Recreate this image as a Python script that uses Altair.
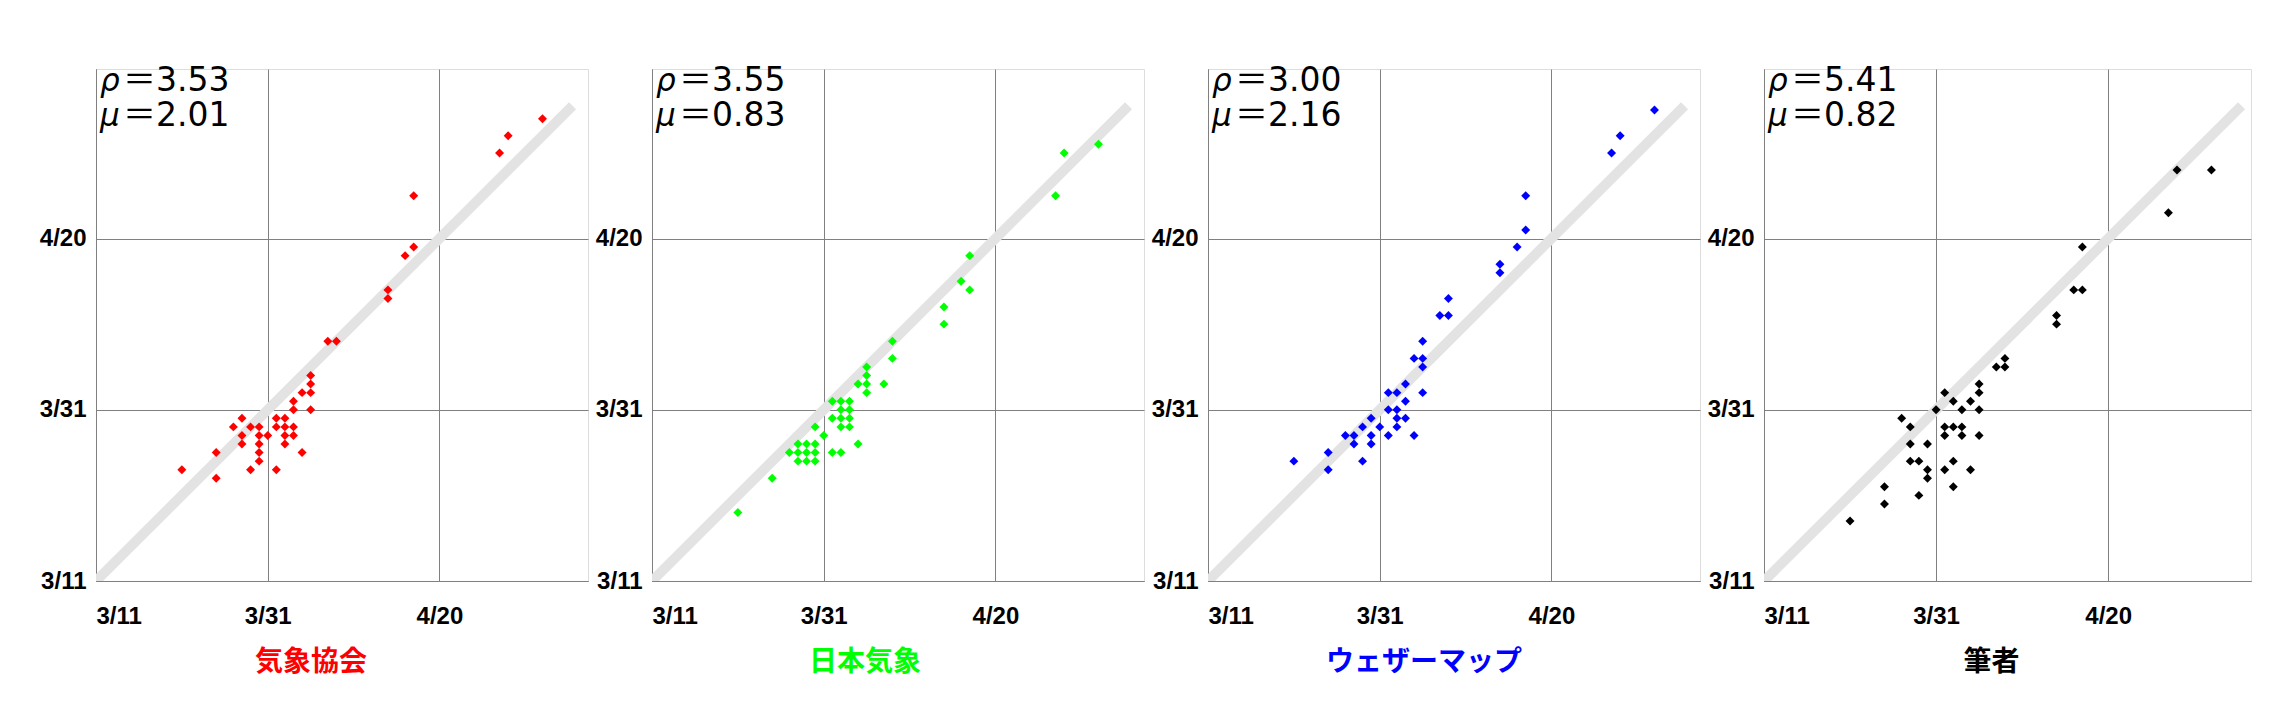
import altair as alt
import pandas as pd

# Days counted from 3/11 (0 = 3/11, 20 = 3/31, 40 = 4/20)
tick_days = [0, 20, 40]
tick_labels = ["3/11", "3/31", "4/20"]

panel_names = ["気象協会", "日本気象", "ウェザーマップ", "筆者"]
panel_colors = ["#ff0000", "#00ff00", "#0000ff", "#000000"]
rho_values = ["3.53", "3.55", "3.00", "5.41"]
mu_values = ["2.01", "0.83", "2.16", "0.82"]

kyokai_x = [10, 14, 14, 16, 17, 17, 17, 18, 18, 19, 19, 19, 19, 19, 20, 21, 21, 21, 22, 22, 22, 22,
            23, 23, 23, 23, 24, 24, 25, 25, 25, 25, 27, 28, 34, 34, 36, 37, 37, 47, 48, 52]
kyokai_y = [13, 15, 12, 18, 19, 17, 16, 18, 13, 18, 17, 16, 15, 14, 17, 19, 18, 13, 19, 18, 17, 16,
            21, 20, 18, 17, 22, 15, 24, 23, 22, 20, 28, 28, 34, 33, 38, 39, 45, 50, 52, 54]

nihon_x = [10, 14, 16, 17, 17, 17, 18, 18, 18, 19, 19, 19, 19, 20, 21, 21, 21, 22, 22, 22, 22, 22,
           23, 23, 23, 23, 24, 24, 25, 25, 25, 25, 27, 28, 28, 34, 34, 36, 37, 37, 47, 48, 52]
nihon_y = [8, 12, 15, 16, 15, 14, 16, 15, 14, 18, 16, 15, 14, 17, 21, 19, 15, 21, 20, 19, 18, 15,
           21, 20, 19, 18, 23, 16, 25, 24, 23, 22, 23, 28, 26, 32, 30, 35, 38, 34, 45, 50, 51]

wmap_x = [10, 14, 14, 16, 17, 17, 18, 18, 19, 19, 19, 20, 21, 21, 21, 22, 22, 22, 22, 23, 23, 23,
          24, 24, 25, 25, 25, 25, 27, 28, 28, 34, 34, 36, 37, 37, 47, 48, 52]
wmap_y = [14, 15, 13, 17, 17, 16, 18, 14, 19, 17, 16, 18, 22, 20, 17, 22, 20, 19, 18, 23, 21, 19,
          26, 17, 28, 26, 25, 22, 31, 33, 31, 37, 36, 39, 41, 45, 50, 52, 55]

hissha_x = [10, 14, 14, 16, 17, 17, 17, 18, 18, 19, 19, 19, 20, 21, 21, 21, 21, 22, 22, 22, 22,
            23, 23, 23, 24, 24, 25, 25, 25, 25, 27, 28, 28, 34, 34, 36, 37, 37, 47, 48, 52]
hissha_y = [7, 11, 9, 19, 18, 16, 14, 14, 10, 16, 13, 12, 20, 22, 18, 17, 13, 21, 18, 14, 11,
            20, 18, 17, 21, 13, 23, 22, 20, 17, 25, 26, 25, 31, 30, 34, 34, 39, 43, 48, 48]

diag_days = [0, 55.5]

series_x = [kyokai_x, nihon_x, wmap_x, hissha_x]
series_y = [kyokai_y, nihon_y, wmap_y, hissha_y]

x_max = [57.3, 57.3, 57.3, 56.6]
y_max = 59.8
panel_w = [492, 492, 492, 487]
panel_h = 512
title_dx = [-31, -33, -30, -16]

label_expr = "'" + tick_labels[-1] + "'"
for d, lab in reversed(list(zip(tick_days[:-1], tick_labels[:-1]))):
    label_expr = f"datum.value == {d} ? '{lab}' : ({label_expr})"

axis_common = dict(
    values=tick_days,
    labelExpr=label_expr,
    title=None,
    grid=True,
    gridColor="#808080",
    gridWidth=1,
    gridOpacity=1,
    domainColor="#808080",
    domainWidth=1,
    ticks=False,
    labelFont="Liberation Sans",
    labelFontWeight="bold",
    labelFontSize=24,
    labelColor="#000000",
    labelOverlap=False,
)


def text_layer(txt, x, y, font, size, style="normal"):
    return alt.Chart(pd.DataFrame({"t": [txt]})).mark_text(
        align="left", baseline="alphabetic", font=font, fontSize=size,
        fontStyle=style, color="#000000"
    ).encode(x=alt.value(x), y=alt.value(y), text="t:N")


def make_panel(i):
    xs, ys = series_x[i], series_y[i]
    color = panel_colors[i]
    xscale = alt.Scale(domain=[0, x_max[i]], nice=False, zero=False)
    yscale = alt.Scale(domain=[0, y_max], nice=False, zero=False)
    xaxis = alt.Axis(labelPadding=23, **axis_common)
    yaxis = alt.Axis(labelPadding=10, **axis_common)

    diag_df = pd.DataFrame({"x": diag_days, "y": diag_days})
    diag = alt.Chart(diag_df).mark_line(
        color="#e3e3e3", strokeWidth=10, strokeCap="butt", clip=True
    ).encode(
        x=alt.X("x:Q", scale=xscale, axis=xaxis),
        y=alt.Y("y:Q", scale=yscale, axis=yaxis),
    )

    pts_df = pd.DataFrame({"x": xs, "y": ys})
    pts = alt.Chart(pts_df).mark_point(
        shape="diamond", filled=True, size=80, color=color, opacity=1, strokeWidth=0
    ).encode(
        x=alt.X("x:Q", scale=xscale, axis=xaxis),
        y=alt.Y("y:Q", scale=yscale, axis=yaxis),
    )

    layers = [diag, pts]
    for row, (sym, val) in enumerate([("ρ", rho_values[i]), ("μ", mu_values[i])]):
        base_y = 22 + 35 * row
        layers.append(text_layer(sym, 4, base_y, "DejaVu Sans", 31, "italic"))
        layers.append(text_layer("＝" + val, 27, base_y,
                                 "DejaVu Sans, Noto Sans CJK JP", 33))

    return alt.layer(*layers).properties(
        width=panel_w[i],
        height=panel_h,
        title=alt.TitleParams(
            text=panel_names[i],
            orient="bottom",
            anchor="middle",
            color=color,
            font="Noto Sans CJK JP",
            fontSize=28,
            fontWeight="bold",
            offset=21,
            dx=title_dx[i],
        ),
    )


chart = alt.hconcat(*[make_panel(i) for i in range(4)], spacing=5).properties(
    padding={"left": 30, "top": 56, "right": 5, "bottom": 5}
).configure_view(stroke=None).configure(background="#ffffff")

chart.save("out.html", embed_options={"renderer": "svg", "actions": False})
